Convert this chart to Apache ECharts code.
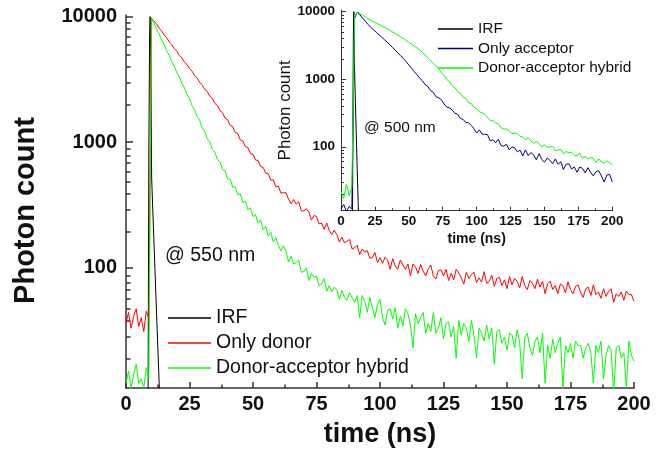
<!DOCTYPE html>
<html><head><meta charset="utf-8">
<script src="https://cdn.jsdelivr.net/npm/echarts@6/dist/echarts.min.js"></script>
<style>html,body{margin:0;padding:0;background:#fff}#c{width:666px;height:453px}</style>
</head><body><div id="c"></div>
<script>
// ---------- axis ticks ----------
const yMajorTicks = [100, 1000, 10000];
const yMinorTicks = [20,30,40,50,60,70,80,90,200,300,400,500,600,700,800,900,2000,3000,4000,5000,6000,7000,8000,9000];

// ---------- main panel (@ 550 nm), sampled every 1 ns from t = 0 ----------
const mainStep = 1;
const mainIrfTime   = [8.7, 9.0, 9.3, 9.5, 9.8, 10.1, 11.0, 12.0, 13.2];
const mainIrfCounts = [10, 900, 7000, 10000, 4000, 520, 160, 45, 10];
const onlyDonor = [
 36,44,33,41,47,34,40,31,45,39,
 9700,9200,8760,8100,7700,7150,6800,6300,5990,5560,
 5300,4900,4690,4340,4160,3850,3680,3400,3250,2990,
 2870,2630,2530,2320,2230,2030,1960,1780,1720,1550,
 1510,1360,1330,1190,1170,1040,1025,920,905,810,
 800,720,715,640,630,565,560,498,500,440,
 446,392,396,395,351,323,349,321,336,284,
 283,295,277,239,260,256,223,227,202,227,
 198,184,199,184,160,175,158,162,168,141,
 144,151,127,141,133,137,119,120,132,110,
 120,108,121,115,97,118,103,97,115,105,
 97,107,86,107,101,90,106,94,86,98,
 105,86,81,95,96,86,97,79,90,80,
 97,91,83,74,92,82,88,92,76,83,
 77,93,75,78,87,71,82,84,72,80,
 68,85,73,82,78,69,85,72,67,79,
 75,68,81,70,78,62,75,78,67,72,
 62,74,72,63,77,67,62,71,73,63,
 58,68,70,60,73,61,64,57,68,59,
 65,68,53,62,59,64,55,65,61,61,
 54];
const donorAcceptorMain = [
 12,15,11,14,17,12,13,11,16,13,
 9800,8900,8000,7300,6540,5990,5350,4910,4380,4030,
 3580,3300,2930,2710,2390,2220,1950,1820,1600,1495,
 1300,1225,1065,1005,875,835,725,700,605,592,
 510,505,438,440,380,388,330,338,290,300,
 255,265,226,240,200,214,178,192,160,174,
 150,136,149,135,111,123,107,110,115,92,
 93,100,79,90,84,86,72,74,82,65,
 72,64,70,66,56,66,58,55,63,58,
 53,60,40,60,54,44,58,48,40,51,
 56,40,35,46,47,39,48,33,41,34,
 47,43,35,23,43,36,40,44,30,36,
 31,44,30,33,40,27,36,37,28,34,
 19,38,29,36,33,26,38,29,19,33,
 30,26,35,27,33,17,31,32,25,28,
 22,30,29,23,32,25,13,28,30,23,
 20,26,28,21,30,12,24,19,27,21,
 25,28,11,24,21,25,19,26,24,24,
 19,23,25,21,12,24,21,26,13,20,
 24,22,10,23,24,19,21,11,26,20,
 18];

// ---------- inset panel (@ 500 nm), sampled every 2 ns from t = 0 ----------
const insetStep = 2;
const insetIrfTime   = [8.5, 8.9, 9.2, 9.5, 9.8, 10.5, 11.2, 12.0, 12.9];
const insetIrfCounts = [10, 800, 7000, 10000, 1900, 580, 170, 43, 10];
const onlyAcceptor = [
 12,14,11,13,12,
 8000,9900,8970,8050,7220,
 6470,5850,5380,4950,4560,
 4200,3860,3550,3230,2950,
 2690,2440,2230,2030,1820,
 1630,1460,1300,1165,1040,
 950,835,782,680,640,
 552,532,498,429,387,
 376,350,313,303,263,
 255,228,227,207,185,
 160,178,154,153,151,
 122,127,115,129,104,
 102,109,90,99,97,
 84,89,73,90,74,
 82,76,64,79,65,
 59,68,63,56,66,
 55,60,46,55,56,
 47,50,42,50,48,
 41,49,42,37,43,
 44,37,30,38,39,
 30];
const donorAcceptorInset = [
 22,17,28,19,25,
 8500,9950,9420,8870,8340,
 7850,7430,7100,6770,6470,
 6180,5900,5610,5310,5020,
 4750,4500,4250,4020,3770,
 3530,3310,3100,2910,2730,
 2500,2280,2070,1890,1720,
 1570,1430,1240,1150,990,
 920,795,748,652,624,
 542,520,450,437,383,
 372,330,319,304,270,
 246,246,224,220,191,
 183,183,173,156,160,
 156,142,140,128,135,
 122,113,120,112,99,
 107,98,99,102,88,
 89,92,79,85,81,
 83,74,74,80,68,
 72,66,70,67,59,
 66,60,57,62,58,
 54];

// ---------- styling ----------
const FONT = '"Liberation Sans", Arial, Helvetica, sans-serif';
const INK = '#111';
const AX = '#333';
const C_IRF = '#000000', C_RED = '#ff0000', C_GREEN = '#00ff00', C_BLUE = '#000080';

const onGrid = (arr, step) => arr.map((v, i) => [i * step, v]);
const zipPairs = (ts, vs) => ts.map((t, i) => [t, vs[i]]);
const fmt = v => String(Math.round(v));

const MAIN_RECT  = {left: 126, right: 32, top: 15, bottom: 61.3};
const INSET_RECT = {left: 341, right: 53.7, top: 10, bottom: 242.3};
const MAIN_MINOR_LEN = 4.5, INSET_MINOR_LEN = 3;
// helper grids whose right edge sits one minor-tick length inside each panel,
// so their right-hand tick-only axis draws the minor log ticks just inside the y axis
const MAIN_TICK_RECT  = {left: 0, right: 666 - MAIN_RECT.left - MAIN_MINOR_LEN, top: MAIN_RECT.top, bottom: MAIN_RECT.bottom};
const INSET_TICK_RECT = {left: 0, right: 666 - INSET_RECT.left - INSET_MINOR_LEN, top: INSET_RECT.top, bottom: INSET_RECT.bottom};

function xAxisCfg(grid, fs, tickLen, minorLen, lw, name, nameFs, nameGap, margin) {
  return {
    gridIndex: grid, type: 'value', min: 0, max: 200, interval: 25,
    name: name, nameLocation: 'middle', nameGap: nameGap,
    nameTextStyle: {fontFamily: FONT, fontWeight: 'bold', fontSize: nameFs, color: INK},
    axisLine: {lineStyle: {color: AX, width: lw}},
    axisTick: {inside: true, length: tickLen, lineStyle: {color: AX, width: lw}},
    minorTick: {show: true, splitNumber: 2, length: minorLen, lineStyle: {color: AX, width: lw}},
    axisLabel: {margin: margin, fontFamily: FONT, fontWeight: 'bold', fontSize: fs, color: INK},
    splitLine: {show: false}, minorSplitLine: {show: false}
  };
}
function blankX(grid) {
  return {gridIndex: grid, type: 'value', min: 0, max: 200,
    axisLine: {show: false}, axisTick: {show: false}, axisLabel: {show: false}, splitLine: {show: false}};
}
function blankY(grid, min, max) {
  return {gridIndex: grid, type: 'log', min: min, max: max,
    axisLine: {show: false}, axisTick: {show: false}, axisLabel: {show: false}, splitLine: {show: false}};
}
function yAxisMajor(grid, min, max, fs, tickLen, lw, name, nameFs, nameWeight, nameGap, margin, namePad) {
  return {
    gridIndex: grid, type: 'log', min: min, max: max,
    name: name, nameLocation: 'middle', nameGap: nameGap, nameRotate: 90,
    nameTextStyle: {fontFamily: FONT, fontWeight: nameWeight, fontSize: nameFs, color: INK, padding: namePad},
    axisLine: {show: true, lineStyle: {color: AX, width: lw}},
    axisTick: {inside: true, length: tickLen, customValues: yMajorTicks, lineStyle: {color: AX, width: lw}},
    axisLabel: {margin: margin, customValues: yMajorTicks, formatter: fmt, fontFamily: FONT, fontWeight: 'bold', fontSize: fs, color: INK},
    splitLine: {show: false}
  };
}
function yAxisMinor(grid, min, max, tickLen, lw) {
  return {
    gridIndex: grid, type: 'log', min: min, max: max,
    axisLine: {show: false},
    axisTick: {inside: true, length: tickLen, customValues: yMinorTicks, lineStyle: {color: AX, width: lw}},
    axisLabel: {show: false},
    splitLine: {show: false}
  };
}
function lineSeries(name, data, color, xi, yi, z) {
  return {
    name: name, type: 'line', data: data, xAxisIndex: xi, yAxisIndex: yi,
    symbol: 'none', showSymbol: false, color: color, z: z,
    lineStyle: {color: color, width: 1}, clip: true, silent: true, animation: false
  };
}

const chart = echarts.init(document.getElementById('c'), null, {renderer: 'canvas'});
chart.setOption({
  animation: false,
  backgroundColor: '#ffffff',
  grid: [
    Object.assign({}, MAIN_RECT),
    Object.assign({}, INSET_RECT),
    Object.assign({}, MAIN_TICK_RECT),
    Object.assign({}, INSET_TICK_RECT)
  ],
  xAxis: [
    xAxisCfg(0, 20, 6, 3.5, 1.5, 'time (ns)', 27, 33, 6),
    xAxisCfg(1, 13.5, 4, 2.5, 1, 'time (ns)', 14, 21, 4),
    blankX(2),
    blankX(3)
  ],
  yAxis: [
    yAxisMajor(0, 11, 10300, 20, 7, 1.5, 'Photon count', 29, 'bold', 86, 9, [0, 18, 0, 0]),
    yAxisMajor(1, 11.3, 10600, 13.5, 5, 1, 'Photon count', 17, 'normal', 41, 6, 0),
    blankY(2, 11, 10300),
    yAxisMinor(2, 11, 10300, MAIN_MINOR_LEN, 1.5),
    blankY(3, 11.3, 10600),
    yAxisMinor(3, 11.3, 10600, INSET_MINOR_LEN, 1)
  ],
  legend: [
    {data: ['IRF', 'Only donor', 'Donor-acceptor hybrid'], orient: 'vertical', left: 168, top: 308,
     itemWidth: 43, itemHeight: 1.5, itemGap: 5, icon: 'rect', padding: 0, selectedMode: false,
     textStyle: {fontFamily: FONT, fontSize: 19.5, color: INK, lineHeight: 20}},
    {data: ['IRF', 'Only acceptor', 'Donor-acceptor hybrid'], orient: 'vertical', left: 438, top: 21,
     itemWidth: 35, itemHeight: 1.5, itemGap: 3.5, icon: 'rect', padding: 0, selectedMode: false,
     textStyle: {fontFamily: FONT, fontSize: 15.5, color: INK, lineHeight: 16}}
  ],
  graphic: [
    {type: 'text', left: 165, top: 246, style: {text: '@ 550 nm', font: '19.5px ' + FONT, fill: INK}},
    {type: 'text', left: 364, top: 120, style: {text: '@ 500 nm', font: '15.5px ' + FONT, fill: INK}}
  ],
  series: [
    lineSeries('IRF', zipPairs(mainIrfTime, mainIrfCounts), C_IRF, 0, 0, 2),
    lineSeries('Only donor', onGrid(onlyDonor, mainStep), C_RED, 0, 0, 3),
    lineSeries('Donor-acceptor hybrid', onGrid(donorAcceptorMain, mainStep), C_GREEN, 0, 0, 4),
    lineSeries('IRF', zipPairs(insetIrfTime, insetIrfCounts), C_IRF, 1, 1, 2),
    lineSeries('Only acceptor', onGrid(onlyAcceptor, insetStep), C_BLUE, 1, 1, 3),
    lineSeries('Donor-acceptor hybrid', onGrid(donorAcceptorInset, insetStep), C_GREEN, 1, 1, 4)
  ]
});
</script></body></html>
